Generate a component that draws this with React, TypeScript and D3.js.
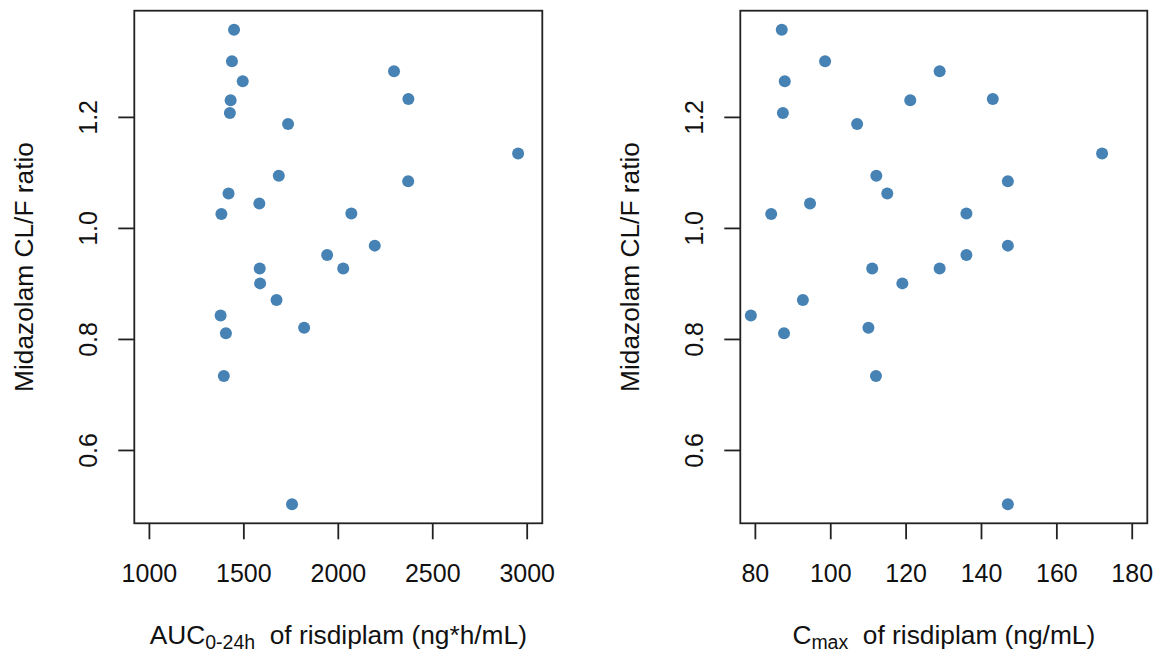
import React from "react";
import * as d3 from "d3";

const ratio = [1.358, 1.301, 1.265, 1.283, 1.233, 1.231, 1.208, 1.188, 1.135, 1.095, 1.085, 1.063, 1.045, 1.026, 1.027, 0.969, 0.952, 0.928, 0.928, 0.901, 0.871, 0.843, 0.811, 0.821, 0.734, 0.503];
const auc = [1448, 1437, 1494, 2295, 2371, 1430, 1426, 1734, 2952, 1685, 2370, 1419, 1582, 1381, 2069, 2193, 1941, 1584, 2026, 1586, 1673, 1377, 1405, 1819, 1394, 1755];
const cmax = [87.0, 98.5, 87.8, 128.9, 143, 121.1, 87.3, 107, 172, 112.1, 147, 115, 94.5, 84.2, 136, 147, 136, 111, 128.9, 119, 92.6, 78.8, 87.6, 110, 112, 147];

const yTicks = [0.6, 0.8, 1.0, 1.2];
const aucTicks = [1000, 1500, 2000, 2500, 3000];
const cmaxTicks = [80, 100, 120, 140, 160, 180];
const aucLim = [1000, 3000];
const cmaxLim = [80, 180];
const yTitle = "Midazolam CL/F ratio";

const FONT = "'Liberation Sans', Arial, sans-serif";
const FS = 25;
const TFS = 26.3;
const SUB = 19.5;
const TOP = 10.7;
const BOTTOM = 523.3;
const COLOR = "#4682B4";
const STROKE = "#222";

function ext(lim: number[]) {
  const r = lim[1] - lim[0];
  return [lim[0] - 0.04 * r, lim[1] + 0.04 * r];
}

const yExt = d3.extent(ratio) as [number, number];
const yScale = d3.scaleLinear().domain(ext(yExt)).range([BOTTOM, TOP]);

function Panel({ left, right, xs, lim, ticks, title }: any) {
  const x = d3.scaleLinear().domain(ext(lim)).range([left, right]);
  const cx = (left + right) / 2;
  const cy = (TOP + BOTTOM) / 2;
  return (
    <g>
      <rect x={left} y={TOP} width={right - left} height={BOTTOM - TOP} fill="none" stroke={STROKE} strokeWidth={1.8} />
      {ticks.map((t: number) => (
        <g key={"x" + t}>
          <line x1={x(t)} x2={x(t)} y1={BOTTOM} y2={BOTTOM + 16} stroke={STROKE} strokeWidth={1.8} />
          <text x={x(t)} y={581.5} textAnchor="middle" fontSize={FS} fontFamily={FONT} fill="#111">{t}</text>
        </g>
      ))}
      {yTicks.map((t) => (
        <g key={"y" + t}>
          <line x1={left - 16} x2={left} y1={yScale(t)} y2={yScale(t)} stroke={STROKE} strokeWidth={1.8} />
          <text transform={`translate(${left - 37.5},${yScale(t)}) rotate(-90)`} textAnchor="middle" fontSize={FS} fontFamily={FONT} fill="#111">{t.toFixed(1)}</text>
        </g>
      ))}
      <text transform={`translate(${left - 101},${cy}) rotate(-90)`} textAnchor="middle" fontSize={TFS} fontFamily={FONT} fill="#111">{yTitle}</text>
      <text x={cx} y={644} textAnchor="middle" fontSize={TFS} fontFamily={FONT} fill="#111">
        {title}
      </text>
      {xs.map((v: number, i: number) => (
        <circle key={i} cx={x(v)} cy={yScale(ratio[i])} r={6} fill={COLOR} />
      ))}
    </g>
  );
}

export default function App() {
  return (
    <svg width={1163} height={654} style={{ position: "absolute", left: 0, top: 0, background: "#fff" }}>
      <rect width={1163} height={654} fill="#fff" />
      <Panel
        left={134.3}
        right={542.3}
        xs={auc}
        lim={aucLim}
        ticks={aucTicks}
        title={[
          <tspan key="a">AUC</tspan>,
          <tspan key="b" fontSize={SUB} dy={5}>0-24h</tspan>,
          <tspan key="c" dy={-5}>{"\u00a0\u00a0of risdiplam (ng*h/mL)"}</tspan>,
        ]}
      />
      <Panel
        left={740.3}
        right={1147.3}
        xs={cmax}
        lim={cmaxLim}
        ticks={cmaxTicks}
        title={[
          <tspan key="a">C</tspan>,
          <tspan key="b" fontSize={SUB} dy={5}>max</tspan>,
          <tspan key="c" dy={-5}>{"\u00a0\u00a0of risdiplam (ng/mL)"}</tspan>,
        ]}
      />
    </svg>
  );
}
